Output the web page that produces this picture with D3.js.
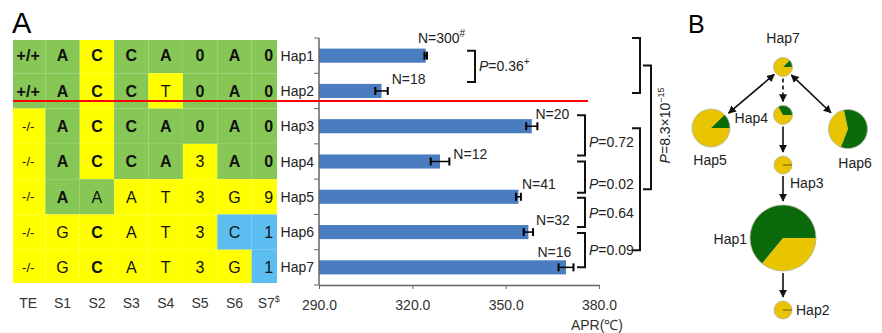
<!DOCTYPE html>
<html>
<head>
<meta charset="utf-8">
<script src="https://cdn.jsdelivr.net/npm/d3@7"></script>
<style>
  body { margin: 0; background: #fff; }
  svg { font-family: Arial, "Liberation Sans", sans-serif; }
</style>
</head>
<body>
<svg id="chart" width="882" height="333"></svg>
<script>
// ---- data ----
const haplotypes = ["Hap1", "Hap2", "Hap3", "Hap4", "Hap5", "Hap6", "Hap7"];
const sites = ["TE", "S1", "S2", "S3", "S4", "S5", "S6", "S7"];
const siteMarks = ["", "", "", "", "", "", "", "$"];
const alleles = [
    ["+/+", "A", "C", "C", "A", "0", "A", "0"],
    ["+/+", "A", "C", "C", "T", "0", "A", "0"],
    ["-/-", "A", "C", "C", "A", "0", "A", "0"],
    ["-/-", "A", "C", "C", "A", "3", "A", "0"],
    ["-/-", "A", "A", "A", "T", "3", "G", "9"],
    ["-/-", "G", "C", "A", "T", "3", "C", "1"],
    ["-/-", "G", "C", "A", "T", "3", "G", "1"]
];
// allele group of each cell: 0 = green, 1 = yellow, 2 = blue
const alleleGroups = [
    [0, 0, 1, 0, 0, 0, 0, 0],
    [0, 0, 1, 0, 1, 0, 0, 0],
    [1, 0, 1, 0, 0, 0, 0, 0],
    [1, 0, 1, 0, 0, 1, 0, 0],
    [1, 0, 0, 1, 1, 1, 1, 1],
    [1, 1, 1, 1, 1, 1, 2, 2],
    [1, 1, 1, 1, 1, 1, 1, 2]
];
const aprMean = [324.3, 310.1, 358.4, 328.9, 354.1, 357.3, 369.4];
const aprErr = [0.4, 2.0, 1.8, 3.0, 0.8, 1.5, 2.4];
const sampleN = [300, 18, 20, 12, 41, 32, 16];
const nMarks = ["#", "", "", "", "", "", ""];
const xTicks = [290, 320, 350, 380];
const pairTests = [
    { a: 0, b: 1, p: "0.36", mark: "+" },
    { a: 2, b: 3, p: "0.72", mark: "" },
    { a: 3, b: 4, p: "0.02", mark: "" },
    { a: 4, b: 5, p: "0.64", mark: "" },
    { a: 5, b: 6, p: "0.09", mark: "" }
];
const groupP = { base: "8.3", exp: "−15" };
const greenCount = [192, 0, 0, 4, 5, 19, 2];   // pie split per haplotype
const networkLinks = [
    { from: "Hap7", to: "Hap5", type: "both" },
    { from: "Hap7", to: "Hap6", type: "both" },
    { from: "Hap7", to: "Hap4", type: "dashed" },
    { from: "Hap4", to: "Hap3", type: "one" },
    { from: "Hap3", to: "Hap1", type: "one" },
    { from: "Hap1", to: "Hap2", type: "one" }
];

// ---- layout ----
const svg = d3.select("#chart");
const cellColor = ["#86c755", "#ffff00", "#5bbdf0"];
const barColor = "#4a7dc0";
const pieGreen = "#0b6b0b", pieYellow = "#e8c500";

const y = d3.scaleBand().domain(haplotypes).range([38, 285])
    .paddingInner(0.6).paddingOuter(0.3);
const rowTop = h => y(h) + y.bandwidth() / 2 - y.step() / 2;
const rowMid = h => y(h) + y.bandwidth() / 2;

const xCol = d3.scaleBand().domain(sites).range([11, 286]);
const x = d3.scaleLinear().domain([290, 380]).range([319, 599]);

// panel letters
svg.append("text").attr("x", 12).attr("y", 33).attr("font-size", 29).text("A");
svg.append("text").attr("x", 688).attr("y", 33).attr("font-size", 25).text("B");

// ---- table ----
const table = svg.append("g");
haplotypes.forEach((h, r) => {
    sites.forEach((s, c) => {
        const x0 = Math.max(13, xCol(s)), x1 = Math.min(277, xCol(s) + xCol.bandwidth());
        const y0 = Math.max(40, rowTop(h)), y1 = Math.min(283, rowTop(h) + y.step());
        table.append("rect")
            .attr("x", x0).attr("y", y0)
            .attr("width", x1 - x0).attr("height", y1 - y0)
            .attr("fill", cellColor[alleleGroups[r][c]]);
    });
});
haplotypes.forEach((h, r) => {
    sites.forEach((s, c) => {
        const v = alleles[r][c];
        const same = v === alleles[0][c];
        table.append("text")
            .attr("x", xCol(s) + xCol.bandwidth() / 2)
            .attr("y", rowMid(h))
            .attr("dy", "0.36em")
            .attr("text-anchor", "middle")
            .attr("font-size", v === "-/-" ? 13 : 16)
            .attr("font-weight", same ? "bold" : "normal")
            .attr("fill", "#111")
            .text(v);
    });
});
// column headers
sites.forEach((s, c) => {
    const t = svg.append("text")
        .attr("x", xCol(s) + xCol.bandwidth() / 2)
        .attr("y", 308)
        .attr("text-anchor", "middle")
        .attr("font-size", 14)
        .attr("fill", "#333")
        .text(s);
    if (siteMarks[c]) t.append("tspan").attr("dy", -6).attr("font-size", 9).text(siteMarks[c]);
});

// ---- bar chart ----
const bars = svg.append("g");
bars.selectAll(".bar")
    .data(haplotypes)
    .enter()
    .append("rect")
    .attr("x", x(290))
    .attr("y", h => y(h))
    .attr("width", (h, i) => x(aprMean[i]) - x(290))
    .attr("height", y.bandwidth())
    .attr("fill", barColor);

// error bars
haplotypes.forEach((h, i) => {
    const cy = rowMid(h);
    const lo = x(aprMean[i] - aprErr[i]), hi = x(aprMean[i] + aprErr[i]);
    bars.append("line").attr("x1", lo).attr("x2", hi).attr("y1", cy).attr("y2", cy)
        .attr("stroke", "#000").attr("stroke-width", 1.5);
    [lo, hi].forEach(px => bars.append("line")
        .attr("x1", px).attr("x2", px).attr("y1", cy - 4).attr("y2", cy + 4)
        .attr("stroke", "#000").attr("stroke-width", 2));
});

// N labels (offset from error bar end)
const nDx = [-9, 4, -2, 4, 1, 3, -36];
const nDy = [-13, -7, -7, -3, -8, -7, -10];
haplotypes.forEach((h, i) => {
    const t = bars.append("text")
        .attr("x", x(aprMean[i] + aprErr[i]) + nDx[i])
        .attr("y", rowMid(h) + nDy[i])
        .attr("font-size", 14)
        .attr("fill", "#222")
        .text("N=" + sampleN[i]);
    if (nMarks[i]) t.append("tspan").attr("dy", -6).attr("font-size", 10).text(nMarks[i]);
});

// y axis
const axisG = svg.append("g").attr("stroke", "#666");
axisG.append("line").attr("x1", x(290)).attr("x2", x(290))
    .attr("y1", y.range()[0]).attr("y2", y.range()[1]).attr("stroke-width", 1.5);
haplotypes.concat([null]).forEach(h => {
    const yy = h ? rowTop(h) : y.range()[1];
    axisG.append("line").attr("x1", x(290) - 5).attr("x2", x(290)).attr("y1", yy).attr("y2", yy);
});
haplotypes.forEach(h => {
    svg.append("text")
        .attr("x", 314).attr("y", rowMid(h)).attr("dy", "0.36em")
        .attr("text-anchor", "end").attr("font-size", 14).attr("fill", "#222")
        .text(h);
});

// x axis
const xAxis = svg.append("g")
    .attr("transform", "translate(0,285)")
    .call(d3.axisBottom(x).tickValues(xTicks).tickFormat(d3.format(".1f")).tickSize(4).tickSizeOuter(0).tickPadding(11));
xAxis.select(".domain").attr("stroke", "#666").attr("stroke-width", 1.5);
xAxis.selectAll(".tick line").attr("stroke", "#666");
xAxis.selectAll(".tick text").attr("font-size", 14).attr("fill", "#333")
    .attr("font-family", "Arial, 'Liberation Sans', sans-serif");
svg.append("text").attr("x", 623).attr("y", 330).attr("text-anchor", "end")
    .attr("font-size", 14).attr("fill", "#333").text("APR(℃)");

// red divider between TE +/+ and -/-
svg.append("line").attr("x1", 13).attr("x2", 588)
    .attr("y1", 101).attr("y2", 101)
    .attr("stroke", "#ff0000").attr("stroke-width", 2);

// ---- P-value brackets ----
const br = svg.append("g").attr("fill", "none").attr("stroke", "#111").attr("stroke-width", 2);
function bracket(x0, x1, y0, y1) {
    br.append("path").attr("d", `M${x0},${y0}H${x1}V${y1}H${x0}`);
}
function pLabel(px, py, p, mark) {
    const t = svg.append("text").attr("x", px).attr("y", py).attr("dy", "0.36em")
        .attr("font-size", 14).attr("fill", "#222");
    t.append("tspan").attr("font-style", "italic").text("P");
    t.append("tspan").text("=" + p);
    if (mark) t.append("tspan").attr("dy", -6).attr("font-size", 10).text(mark);
}
// bracket ends relative to bar centres, label shift
const brTopDy = [-5, -11, 0, 1, 1];
const brBotDy = [-9, -6, -4, -5, 0];
const brTextDy = [0, 7, 7, 1, 0];
pairTests.forEach((d, i) => {
    const y0 = rowMid(haplotypes[d.a]) + brTopDy[i];
    const y1 = rowMid(haplotypes[d.b]) + brBotDy[i];
    const bx = i === 0 ? 467 : 577;
    bracket(bx, bx + 8, y0, y1);
    pLabel(bx + 12, (y0 + y1) / 2 + brTextDy[i], d.p, d.mark);
});
// group brackets
const upTop = rowTop("Hap1"), upBot = rowMid("Hap2") + 2;
const loTop = rowMid("Hap3") + 2, loBot = rowMid("Hap7") - 17;
bracket(632, 640, upTop, upBot);
bracket(632, 640, loTop, loBot);
const gm0 = (upTop + upBot) / 2, gm1 = (loTop + loBot) / 2;
br.append("path").attr("d", `M643,${gm0}H651V${gm1}H643`);
const gt = svg.append("text")
    .attr("transform", `translate(670,${(gm0 + gm1) / 2 - 2}) rotate(-90)`)
    .attr("text-anchor", "middle").attr("font-size", 14).attr("fill", "#222");
gt.append("tspan").attr("font-style", "italic").text("P");
gt.append("tspan").text("=" + groupP.base + "×10");
gt.append("tspan").attr("dy", -6).attr("font-size", 9).text(groupP.exp);

// ---- panel B: haplotype network ----
const nodes = {
    Hap7: { x: 783, y: 67, r: 9.5, lx: 783, ly: 43, anchor: "middle", start: 90 },
    Hap4: { x: 783, y: 115, r: 9.5, lx: 768, ly: 123, anchor: "end", start: 90 },
    Hap5: { x: 711, y: 128, r: 19, lx: 710, ly: 165, anchor: "middle", start: 90 },
    Hap6: { x: 848, y: 129, r: 19.5, lx: 855, ly: 168, anchor: "middle", start: 201.6 },
    Hap3: { x: 783, y: 165, r: 9, lx: 790, ly: 188, anchor: "start", start: 90 },
    Hap1: { x: 783, y: 238, r: 33, lx: 747, ly: 244, anchor: "end", start: 90 },
    Hap2: { x: 783, y: 310, r: 9, lx: 796, ly: 315, anchor: "start", start: 90 }
};

const defs = svg.append("defs");
defs.append("marker").attr("id", "arr")
    .attr("viewBox", "0 0 10 10").attr("refX", 9).attr("refY", 5)
    .attr("markerWidth", 8).attr("markerHeight", 8)
    .attr("markerUnits", "userSpaceOnUse")
    .attr("orient", "auto-start-reverse")
    .append("path").attr("d", "M0,0L10,5L0,10z").attr("fill", "#111");

const net = svg.append("g");
networkLinks.forEach(l => {
    const a = nodes[l.from], b = nodes[l.to];
    const dx = b.x - a.x, dy = b.y - a.y, len = Math.hypot(dx, dy);
    const ux = dx / len, uy = dy / len;
    const s0 = a.r + 2, s1 = b.r + 4;
    const ln = net.append("line")
        .attr("x1", a.x + ux * s0).attr("y1", a.y + uy * s0)
        .attr("x2", b.x - ux * s1).attr("y2", b.y - uy * s1)
        .attr("stroke", "#111").attr("stroke-width", 1.6)
        .attr("marker-end", "url(#arr)");
    if (l.type === "both") ln.attr("marker-start", "url(#arr)");
    if (l.type === "dashed") ln.attr("stroke-dasharray", "4,3");
});

const arc = d3.arc().innerRadius(0);
haplotypes.forEach((h, i) => {
    const nd = nodes[h];
    const g = net.append("g").attr("transform", `translate(${nd.x},${nd.y})`);
    const st = nd.start * Math.PI / 180;
    const pie = d3.pie().sort(null).startAngle(st).endAngle(st + 2 * Math.PI);
    const counts = [sampleN[i] - greenCount[i], greenCount[i]];
    const colors = [pieYellow, pieGreen];
    g.selectAll("path")
        .data(pie(counts))
        .enter()
        .append("path")
        .attr("d", d => arc.outerRadius(nd.r)(d))
        .attr("fill", (d, k) => colors[k]);
    g.append("circle").attr("r", nd.r).attr("fill", "none")
        .attr("stroke", "#b5b5a0").attr("stroke-width", 0.8);
    if (greenCount[i] === 0) {
        g.append("line").attr("x1", 0).attr("y1", 0)
            .attr("x2", nd.r * Math.sin(st)).attr("y2", -nd.r * Math.cos(st))
            .attr("stroke", "#6a5a10").attr("stroke-width", 1);
    }
    svg.append("text").attr("x", nd.lx).attr("y", nd.ly)
        .attr("text-anchor", nd.anchor).attr("font-size", 14).attr("fill", "#222")
        .text(h);
});
</script>
</body>
</html>
